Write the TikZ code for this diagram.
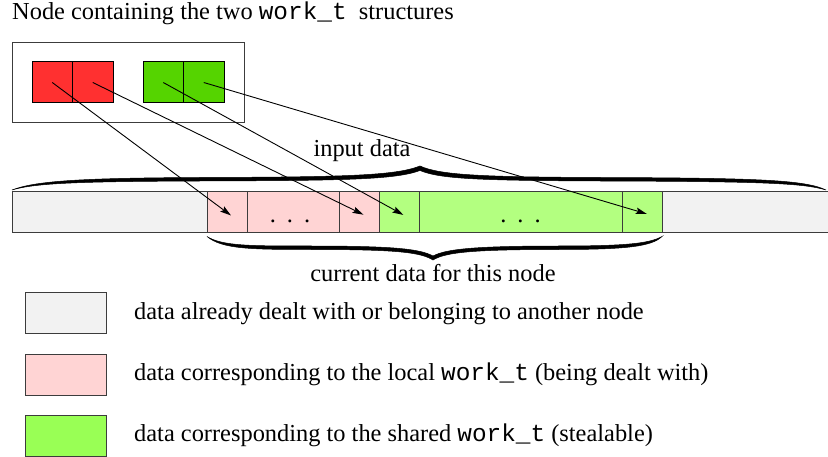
\documentclass[tikz,border=0pt]{standalone}
\usepackage{fontspec}
\setmainfont{Liberation Serif}
\setmonofont{Liberation Mono}
\usepackage{xcolor}
\usepackage{tikz}
\usetikzlibrary{
  arrows.meta,
  positioning,
  calc
}
\definecolor{oldgray}{RGB}{242,242,242}
\definecolor{localpink}{RGB}{255,212,212}
\definecolor{sharedgreen}{RGB}{179,255,128}
\definecolor{legendgreen}{RGB}{153,255,85}
\definecolor{localred}{RGB}{255,48,48}
\definecolor{workgreen}{RGB}{85,212,0}
\definecolor{framegray}{RGB}{60,60,60}

\begin{document}
\begin{tikzpicture}[
  x=1pt, y=-1pt,
  txt/.style={font=\fontsize{24.4}{29}\selectfont, inner sep=0pt},
  cell/.style={rectangle, draw=framegray, line width=1pt, inner sep=0pt,
    outer sep=0pt, minimum height=41pt, anchor=north west},
  workcell/.style={cell, draw=black, minimum width=40.5pt},
  legbox/.style={cell, minimum width=81pt},
  dots/.style={txt, anchor=base, yshift=-10pt},
  ptr/.style={-{Stealth[length=11pt,width=6.5pt,inset=2pt]}, line width=0.9pt,
    shorten >=-5pt},
  brace/.style={fill=black, draw=black, line width=0.5pt},
]
  \useasboundingbox (0,0) rectangle (828,457);

  % Title and the node holding both work_t
  \node[txt, anchor=base west] (title) at (12,20)
    {Node containing the two \texttt{work\_t}\ \ structures};
  \node[cell, minimum width=232pt, minimum height=80pt] (holder) at (12,43) {};
  \node[workcell, fill=localred] (lw1) at (32,62) {};
  \node[workcell, fill=localred] (lw2) at (lw1.north east) {};
  \node[workcell, fill=workgreen] (sw1) at (143,62) {};
  \node[workcell, fill=workgreen] (sw2) at (sw1.north east) {};

  % Input data strip
  \node[cell, fill=oldgray, minimum width=195pt] (old1) at (12,192) {};
  \node[cell, fill=localpink, minimum width=40pt] (loc1) at (old1.north east) {};
  \node[cell, fill=localpink, minimum width=92pt] (locdots) at (loc1.north east) {};
  \node[cell, fill=localpink, minimum width=40pt] (loc2) at (locdots.north east) {};
  \node[cell, fill=sharedgreen, minimum width=40pt] (shr1) at (loc2.north east) {};
  \node[cell, fill=sharedgreen, minimum width=203pt] (shrdots) at (shr1.north east) {};
  \node[cell, fill=sharedgreen, minimum width=40pt] (shr2) at (shrdots.north east) {};
  \node[cell, fill=oldgray, minimum width=170pt] (old2) at (shr2.north east) {};
  \node[dots] at ([xshift=-3pt]locdots.center) {.\hspace{0.45em}.\hspace{0.45em}.};
  \node[dots] at (shrdots.center) {.\hspace{0.45em}.\hspace{0.45em}.};

  % Braces
  \path[brace] (12,190) .. controls (35,181) and (80,178) .. (200,177.5)
    .. controls (340,177) and (395,176) .. (420,166)
    .. controls (440,175) and (480,177) .. (600,177.5)
    .. controls (760,178) and (805,180) .. (826,190)
    .. controls (803,183) and (760,181.5) .. (600,181)
    .. controls (480,180.5) and (440,179) .. (420,170.5)
    .. controls (395,180) and (340,180.5) .. (200,181)
    .. controls (80,181.5) and (35,183) .. (12,190) -- cycle;
  \path[brace] (207,236.5) .. controls (222,246) and (250,246) .. (310,246)
    .. controls (395,246) and (420,249) .. (433,256)
    .. controls (446,249) and (475,246) .. (560,246)
    .. controls (630,246) and (650,243) .. (662,236.5)
    .. controls (652,246) and (630,249.5) .. (560,249.5)
    .. controls (475,249.5) and (446,252) .. (433,260)
    .. controls (420,252) and (395,249.5) .. (310,249.5)
    .. controls (250,249.5) and (222,249) .. (207,236.5) -- cycle;
  \node[txt, anchor=base] (input) at (362,157) {input data};
  \node[txt, anchor=base] (current) at (433,282) {current data for this node};

  % Pointers
  \draw[ptr] (lw1.center) -- (loc1.center);
  \draw[ptr] (lw2.center) -- (loc2.center);
  \draw[ptr] (sw1.center) -- (shr1.center);
  \draw[ptr] (sw2.center) -- (shr2.center);

  % Legend
  \node[legbox, fill=oldgray] (leg1) at (25,293) {};
  \node[legbox, fill=localpink, below=20pt of leg1] (leg2) {};
  \node[legbox, fill=legendgreen, below=20pt of leg2] (leg3) {};
  \node[txt, right=28pt of leg1] {data already dealt with or belonging to another node};
  \node[txt, right=28pt of leg2] {data corresponding to the local \texttt{work\_t} (being dealt with)};
  \node[txt, right=28pt of leg3] {data corresponding to the shared \texttt{work\_t} (stealable)};
\end{tikzpicture}
\end{document}
